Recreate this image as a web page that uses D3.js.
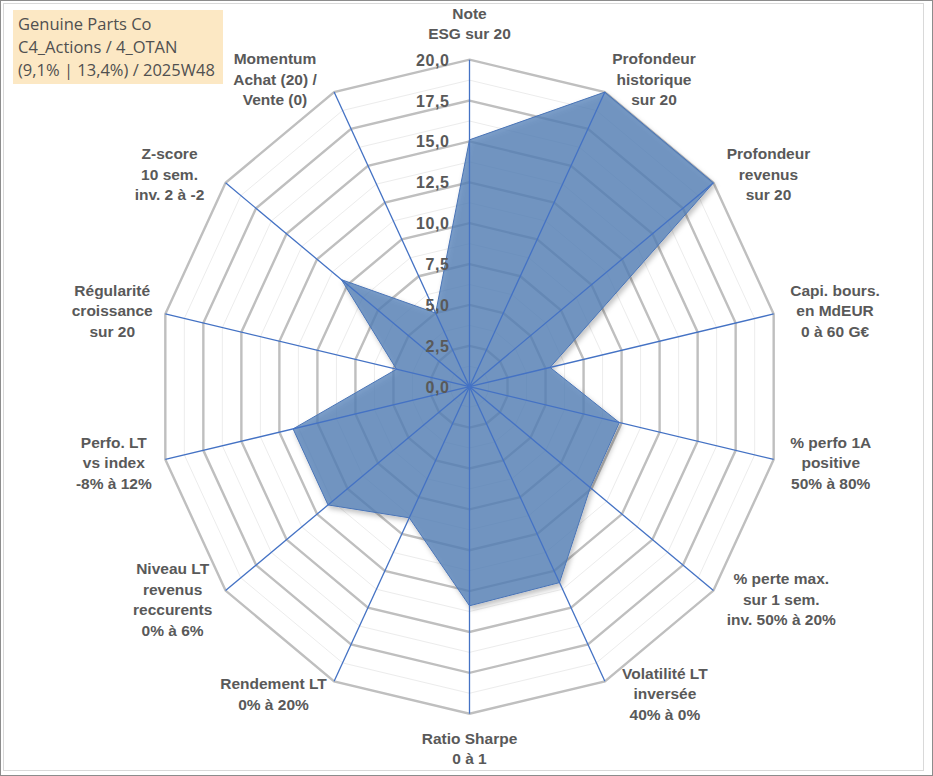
<!DOCTYPE html>
<html>
<head>
<meta charset="utf-8">
<script src="https://cdn.jsdelivr.net/npm/d3@7"></script>
<style>
  html, body { margin: 0; padding: 0; background: #ffffff; }
  svg { display: block; }
</style>
</head>
<body>
<svg id="chart" width="933" height="776"></svg>
<script>
// ---------------- DATA ----------------
const titleLines = ["Genuine Parts Co", "C4_Actions / 4_OTAN", "(9,1% | 13,4%) / 2025W48"];

const axisLabels = [
  ["Note", "ESG sur 20"],
  ["Profondeur", "historique", "sur 20"],
  ["Profondeur", "revenus", "sur 20"],
  ["Capi. bours.", "en MdEUR", "0 à 60 G€"],
  ["% perfo 1A", "positive", "50% à 80%"],
  ["% perte max.", "sur 1 sem.", "inv. 50% à 20%"],
  ["Volatilité LT", "inversée", "40% à 0%"],
  ["Ratio Sharpe", "0 à 1"],
  ["Rendement LT", "0% à 20%"],
  ["Niveau LT", "revenus", "reccurents", "0% à 6%"],
  ["Perfo. LT", "vs index", "-8% à 12%"],
  ["Régularité", "croissance", "sur 20"],
  ["Z-score", "10 sem.", "inv. 2 à -2"],
  ["Momentum", "Achat (20) /", "Vente (0)"]
];

const seriesValues = [15.1, 20.0, 20.0, 5.3, 9.85, 9.9, 13.3, 13.4, 8.9, 11.6, 11.6, 4.8, 10.5, 5.0];

const majorTicks = [0, 2.5, 5, 7.5, 10, 12.5, 15, 17.5, 20];
const tickLabels = ["0,0", "2,5", "5,0", "7,5", "10,0", "12,5", "15,0", "17,5", "20,0"];
const minorTicks = [1.25, 3.75, 6.25, 8.75, 11.25, 13.75, 16.25, 18.75];

// ---------------- LAYOUT ----------------
const W = 933, H = 776;
const cx = 469.5, cy = 386.7;
const RX = 312, RY = 327;
const n = axisLabels.length;
// small horizontal label nudges (px) to mimic the original placement
const labelNudgeX = [0, 0, 0, 0, 0, 0, 10, 0, 0, 0, 3, 4, -8, -10];

const svg = d3.select("#chart");

const rX = d3.scaleLinear().domain([0, 20]).range([0, RX]);
const rY = d3.scaleLinear().domain([0, 20]).range([0, RY]);
const angle = d3.scaleLinear().domain([0, n]).range([0, 2 * Math.PI]);

function pt(v, i) {
  const a = angle(i);
  return [cx + rX(v) * Math.sin(a), cy - rY(v) * Math.cos(a)];
}

const ringLine = d3.line().curve(d3.curveLinearClosed);

// defs: shadow
const defs = svg.append("defs");
const filt = defs.append("filter").attr("id", "shadow")
  .attr("x", "-10%").attr("y", "-10%").attr("width", "130%").attr("height", "130%");
filt.append("feDropShadow")
  .attr("dx", 2).attr("dy", 3).attr("stdDeviation", 2.5)
  .attr("flood-color", "#000").attr("flood-opacity", 0.3);

// background
svg.append("rect").attr("x", 0).attr("y", 0).attr("width", W).attr("height", H).attr("fill", "#fff");

// minor rings
svg.append("g").selectAll("path").data(minorTicks).join("path")
  .attr("d", t => ringLine(d3.range(n).map(i => pt(t, i))))
  .attr("fill", "none").attr("stroke", "#ececec").attr("stroke-width", 1);

// major rings
svg.append("g").selectAll("path").data(majorTicks.filter(t => t > 0)).join("path")
  .attr("d", t => ringLine(d3.range(n).map(i => pt(t, i))))
  .attr("fill", "none").attr("stroke", "#bfbfbf").attr("stroke-width", 2.4)
  .attr("stroke-linejoin", "miter");

// series polygon
svg.append("path")
  .attr("d", ringLine(seriesValues.map((v, i) => pt(v, i))))
  .attr("fill", "#5381b8").attr("fill-opacity", 0.76)
  .attr("stroke", "#4a74b6").attr("stroke-width", 1)
  .attr("filter", "url(#shadow)");

// spokes
svg.append("g").selectAll("line").data(d3.range(n)).join("line")
  .attr("x1", cx).attr("y1", cy)
  .attr("x2", i => pt(20, i)[0]).attr("y2", i => pt(20, i)[1])
  .attr("stroke", "#4472c4").attr("stroke-width", 1.3);

// center dot
svg.append("circle").attr("cx", cx).attr("cy", cy).attr("r", 2.5).attr("fill", "#4472c4");

// tick labels
svg.append("g").selectAll("text").data(majorTicks).join("text")
  .attr("x", cx - 20)
  .attr("y", (t) => pt(t, 0)[1] + 6)
  .attr("text-anchor", "end")
  .attr("font-family", "'Liberation Sans', Arial, sans-serif")
  .attr("font-weight", "bold")
  .attr("font-size", "16px")
  .attr("letter-spacing", "0.6px")
  .attr("fill", "#595959")
  .text((t, k) => tickLabels[k]);

// axis labels
const LH = 20.5;
const FS = 15.5;
const G = 17;
const labG = svg.append("g")
  .attr("font-family", "'Liberation Sans', Arial, sans-serif")
  .attr("font-weight", "bold")
  .attr("font-size", FS + "px")
  .attr("fill", "#595959");

axisLabels.forEach((lines, i) => {
  const a = angle(i);
  const s = Math.sin(a), c = Math.cos(a);
  const end = pt(20, i);
  const t = labG.append("text").attr("text-anchor", "middle");
  const ts = t.selectAll("tspan").data(lines).join("tspan").text(d => d);
  let maxW = 0;
  ts.each(function () { maxW = Math.max(maxW, this.getComputedTextLength()); });
  const nl = lines.length;
  let lx, firstCenter;
  if (Math.abs(s) < 0.01) {
    lx = end[0];
    if (c > 0) {
      firstCenter = end[1] - 26 - (nl - 1) * LH;
    } else {
      firstCenter = end[1] + 24.5;
    }
  } else {
    lx = end[0] + s * G + Math.sign(s) * maxW / 2;
    const blockCenter = end[1] - c * 14;
    firstCenter = blockCenter - (nl - 1) * LH / 2;
  }
  lx += labelNudgeX[i];
  ts.attr("x", lx).attr("y", (d, k) => firstCenter + k * LH + 5.5);
});

// title box
const tb = svg.append("g");
tb.append("rect").attr("x", 13).attr("y", 10).attr("width", 210).attr("height", 74)
  .attr("fill", "#fce8c4");
tb.selectAll("text").data(titleLines).join("text")
  .attr("x", 18)
  .attr("y", (d, k) => 29.5 + k * 23.3)
  .attr("font-family", "'Open Sans', Lato, sans-serif")
  .attr("font-size", "16.5px")
  .attr("fill", "#505050")
  .text(d => d);

// frames
svg.append("rect").attr("x", 3.5).attr("y", 3.5).attr("width", 920).attr("height", 767)
  .attr("fill", "none").attr("stroke", "#d9d9d9").attr("stroke-width", 1);
svg.append("rect").attr("x", 0.5).attr("y", 0.5).attr("width", W - 1).attr("height", H - 1)
  .attr("fill", "none").attr("stroke", "#8c8c8c").attr("stroke-width", 1);
</script>
</body>
</html>
